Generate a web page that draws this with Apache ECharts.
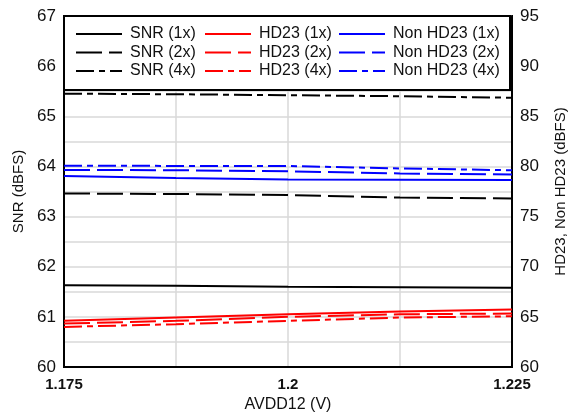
<!DOCTYPE html>
<html>
<head>
<meta charset="utf-8">
<script src="https://cdn.jsdelivr.net/npm/echarts@6/dist/echarts.min.js"></script>
<style>
html,body{margin:0;padding:0;background:#fff;}
#chart{width:568px;height:416px;}
</style>
</head>
<body>
<div id="chart"></div>
<script>
// ---- data ----
var avdd = [1.175, 1.1875, 1.2, 1.2125, 1.225];
var snr1x = [61.63, 61.62, 61.60, 61.59, 61.58];
var snr2x = [63.46, 63.45, 63.43, 63.38, 63.36];
var snr4x = [65.45, 65.44, 65.42, 65.40, 65.37];
var hd1x = [64.6, 64.93, 65.26, 65.53, 65.73];
var hd2x = [64.33, 64.6, 65.0, 65.26, 65.33];
var hd4x = [64.0, 64.27, 64.6, 64.93, 65.06];
var nonhd1x = [79.05, 78.85, 78.7, 78.66, 78.65];
var nonhd2x = [79.65, 79.62, 79.52, 79.3, 79.2];
var nonhd4x = [80.08, 80.05, 80.05, 79.8, 79.62];
var xTickLabels = ['1.175', '1.2', '1.225'];

var FONT = 'Liberation Sans, Arial, sans-serif';
var DASH2 = [26, 7];
var DASH4 = [18, 5, 6, 5];

function pairs(ys) { return avdd.map(function (x, i) { return [x, ys[i]]; }); }
function mk(name, ys, color, dash, yIdx) {
  return {
    name: name, type: 'line', yAxisIndex: yIdx, data: pairs(ys),
    symbol: 'none', smooth: false, z: 2,
    lineStyle: { color: color, width: 2, type: dash },
    itemStyle: { color: color }
  };
}

var chart = echarts.init(document.getElementById('chart'), null, { renderer: 'canvas' });
var legendCommon = {
  orient: 'vertical', top: 26, itemWidth: 46, itemHeight: 12, itemGap: 2.5, padding: 0,
  z: 10, selectedMode: false,
  itemStyle: { color: 'rgba(0,0,0,0)', borderWidth: 0, opacity: 0 },
  textStyle: { fontFamily: FONT, fontSize: 16, color: '#111', lineHeight: 16, padding: [0, 0, 0, 3] }
};
var option = {
  animation: false,
  backgroundColor: '#fff',
  grid: { left: 64, top: 16, right: 56, bottom: 49, outerBoundsMode: 'none', containLabel: false,
          show: true, borderColor: '#000', borderWidth: 2, backgroundColor: 'transparent' },
  graphic: [{
    type: 'rect', z: 3,
    shape: { x: 64, y: 16, width: 446, height: 74 },
    style: { fill: '#fff', stroke: '#000', lineWidth: 2 }
  }],
  legend: [
    Object.assign({ left: 75, data: ['SNR (1x)', 'SNR (2x)', 'SNR (4x)'] }, legendCommon),
    Object.assign({ left: 204, data: ['HD23 (1x)', 'HD23 (2x)', 'HD23 (4x)'] }, legendCommon),
    Object.assign({ left: 338, data: ['Non HD23 (1x)', 'Non HD23 (2x)', 'Non HD23 (4x)'] }, legendCommon)
  ],
  xAxis: {
    type: 'value', min: 1.175, max: 1.225, interval: 0.0125,
    name: 'AVDD12 (V)', nameLocation: 'middle', nameGap: 29,
    nameTextStyle: { fontFamily: FONT, fontSize: 16, color: '#111' },
    axisLine: { show: true, lineStyle: { color: '#000', width: 2 } },
    axisTick: { show: false },
    axisLabel: {
      fontFamily: FONT, fontSize: 15, fontWeight: 'bold', color: '#111', margin: 10,
      formatter: function (v) {
        for (var i = 0; i < xTickLabels.length; i++) {
          if (Math.abs(parseFloat(xTickLabels[i]) - v) < 1e-6) return xTickLabels[i];
        }
        return '';
      }
    },
    splitLine: { show: true, lineStyle: { color: '#d8d8d8', width: 1.5 } }
  },
  yAxis: [{
    type: 'value', min: 60, max: 67, interval: 0.5, position: 'left',
    name: 'SNR (dBFS)', nameLocation: 'middle', nameGap: 37, nameRotate: 90,
    nameTextStyle: { fontFamily: FONT, fontSize: 15, color: '#111' },
    axisLine: { show: true, lineStyle: { color: '#000', width: 2 } },
    axisTick: { show: false },
    axisLabel: {
      fontFamily: FONT, fontSize: 17, color: '#111', margin: 8,
      formatter: function (v) { return Math.abs(v - Math.round(v)) < 1e-6 ? String(Math.round(v)) : ''; }
    },
    splitLine: { show: true, lineStyle: { color: '#d8d8d8', width: 1.5 } }
  }, {
    type: 'value', min: 60, max: 95, interval: 2.5, position: 'right',
    name: 'HD23, Non HD23 (dBFS)', nameLocation: 'middle', nameGap: 41, nameRotate: 90,
    nameTextStyle: { fontFamily: FONT, fontSize: 15, color: '#111' },
    axisLine: { show: true, lineStyle: { color: '#000', width: 2 } },
    axisTick: { show: false },
    axisLabel: {
      fontFamily: FONT, fontSize: 17, color: '#111', margin: 8,
      formatter: function (v) { return Math.abs(v / 5 - Math.round(v / 5)) < 1e-6 ? String(Math.round(v)) : ''; }
    },
    splitLine: { show: false }
  }],
  series: [
    mk('SNR (1x)', snr1x, '#000', 'solid', 0),
    mk('SNR (2x)', snr2x, '#000', DASH2, 0),
    mk('SNR (4x)', snr4x, '#000', DASH4, 0),
    mk('HD23 (1x)', hd1x, '#ff0000', 'solid', 1),
    mk('HD23 (2x)', hd2x, '#ff0000', DASH2, 1),
    mk('HD23 (4x)', hd4x, '#ff0000', DASH4, 1),
    mk('Non HD23 (1x)', nonhd1x, '#0000ff', 'solid', 1),
    mk('Non HD23 (2x)', nonhd2x, '#0000ff', DASH2, 1),
    mk('Non HD23 (4x)', nonhd4x, '#0000ff', DASH4, 1)
  ]
};
chart.setOption(option);
</script>
</body>
</html>
